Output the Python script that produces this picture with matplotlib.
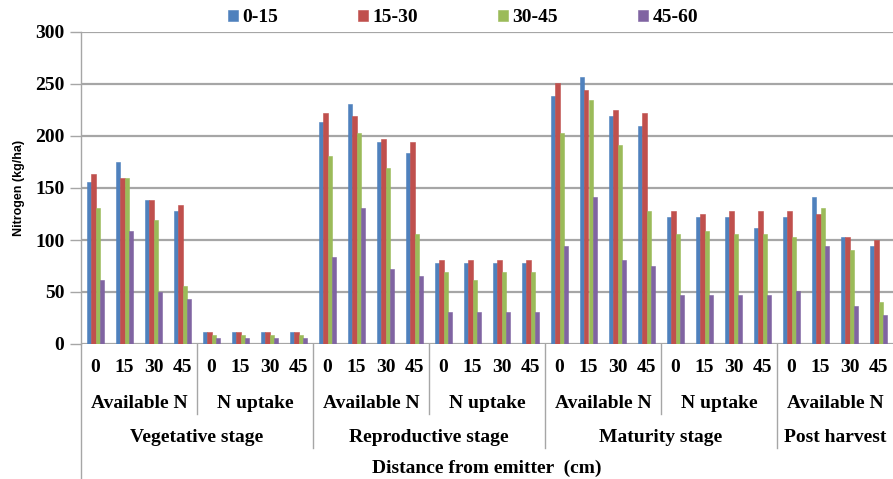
import numpy as np
import matplotlib.pyplot as plt
from matplotlib.lines import Line2D
from matplotlib.transforms import blended_transform_factory

# depth series (cm)
series = ['0-15', '15-30', '30-45', '45-60']
colors = ['#4F81BD', '#C0504D', '#9BBB59', '#8064A2']

distances = ['0', '15', '30', '45']
subgroups = ['Available N', 'N uptake', 'Available N', 'N uptake',
             'Available N', 'N uptake', 'Available N']
stages = ['Vegetative stage', 'Reproductive stage', 'Maturity stage', 'Post harvest']

# values per category (28 = 7 subgroups x 4 distances)
d0_15 = [156, 175, 138, 128, 12, 12, 12, 12,
         213, 231, 194, 184, 78, 78, 78, 78,
         238, 257, 219, 210, 122, 122, 122, 112,
         122, 141, 103, 94]
d15_30 = [163, 160, 138, 134, 12, 12, 12, 12,
          222, 219, 197, 194, 81, 81, 81, 81,
          251, 244, 225, 222, 128, 125, 128, 128,
          128, 125, 103, 100]
d30_45 = [131, 160, 119, 56, 9, 9, 9, 9,
          181, 203, 169, 106, 69, 62, 69, 69,
          203, 235, 191, 128, 106, 109, 106, 106,
          103, 131, 90, 40]
d45_60 = [62, 109, 50, 43, 6, 6, 6, 6,
          84, 131, 72, 65, 31, 31, 31, 31,
          94, 141, 81, 75, 47, 47, 47, 47,
          51, 94, 37, 28]
data = [d0_15, d15_30, d30_45, d45_60]

serif = 'Liberation Serif'
fs = 14

fig = plt.figure(figsize=(8.93, 4.79), dpi=100)
ax = fig.add_axes([81/893, 1 - 344/479, 1 - 81/893, 312/479])

n = len(d0_15)
x = np.arange(n)
w = 0.145
for i, (vals, c) in enumerate(zip(data, colors)):
    ax.bar(x + (i - 1.5) * w, vals, w, color=c, edgecolor=c,
           linewidth=0.4, label=series[i], zorder=3)

ax.set_xlim(-0.5, n - 0.5)
ax.set_ylim(0, 300)
ax.set_yticks(range(0, 301, 50))
ax.yaxis.grid(True, color='#a6a6a6', linewidth=1.6, zorder=0)
ax.set_axisbelow(True)
for s in ['top', 'right', 'bottom']:
    ax.spines[s].set_visible(False)
ax.spines['left'].set_color('#a6a6a6')
ax.spines['left'].set_linewidth(1.0)
ax.tick_params(axis='y', length=8, color='#a6a6a6', width=1.0, pad=4)
ax.set_xticks([])
for lab in ax.get_yticklabels():
    lab.set_fontfamily(serif)
    lab.set_fontweight('bold')
    lab.set_fontsize(fs)

ax.set_ylabel('Nitrogen (kg/ha)', fontsize=9, fontweight='bold',
              family='Liberation Sans', labelpad=7)

# multi level category labels
tr = blended_transform_factory(ax.transData, fig.transFigure)
for k in range(n):
    ax.text(k, 1 - 367/479, distances[k % 4], transform=tr, ha='center',
            va='center', family=serif, fontweight='bold', fontsize=fs)
for j, g in enumerate(subgroups):
    ax.text(4 * j + 1.5, 1 - 403/479, g, transform=tr, ha='center',
            va='center', family=serif, fontweight='bold', fontsize=fs)
for j, st in enumerate(stages):
    last = min(8 * j + 7, n - 1)
    ax.text((8 * j + last) / 2, 1 - 437/479, st, transform=tr, ha='center',
            va='center', family=serif, fontweight='bold', fontsize=fs)
ax.text(0.5, 1 - 468/479, 'Distance from emitter  (cm)',
        transform=blended_transform_factory(ax.transAxes, fig.transFigure),
        ha='center', va='center', family=serif, fontweight='bold', fontsize=fs)

y0 = 1 - 344/479
sep_kw = dict(transform=tr, color='#a6a6a6', linewidth=1.0, clip_on=False)
for xs in [3.5, 11.5, 19.5]:
    ax.add_line(Line2D([xs, xs], [y0, 1 - 414/479], **sep_kw))
for xs in [7.5, 15.5, 23.5]:
    ax.add_line(Line2D([xs, xs], [y0, 1 - 448/479], **sep_kw))
ax.add_line(Line2D([-0.5, -0.5], [y0, 0], **sep_kw))

leg = fig.legend(loc='center', bbox_to_anchor=(463/893, 1 - 18/479), ncol=4,
                 frameon=False, handlelength=0.5, handleheight=0.5,
                 handletextpad=0.25, columnspacing=4.1,
                 prop={'family': serif, 'weight': 'bold', 'size': fs})

fig.savefig('out.png', dpi=100)
